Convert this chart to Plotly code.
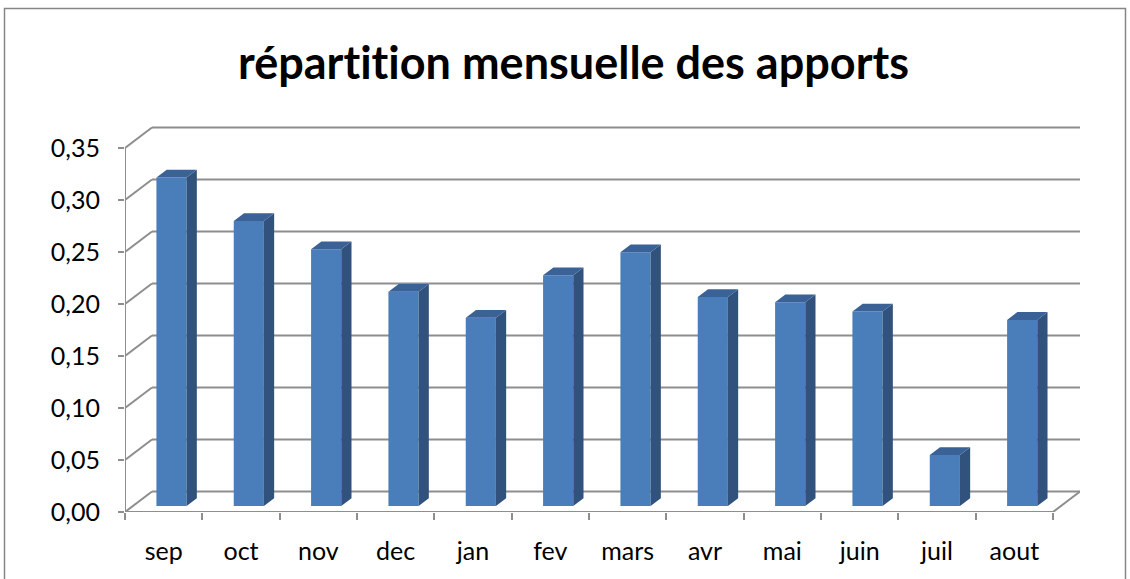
import plotly.graph_objects as go

# ---- data ----
months = ["sep", "oct", "nov", "dec", "jan", "fev", "mars", "avr", "mai", "juin", "juil", "aout"]
values = [0.316, 0.274, 0.247, 0.206, 0.181, 0.222, 0.244, 0.201, 0.196, 0.187, 0.049, 0.179]
y_ticks = [0.00, 0.05, 0.10, 0.15, 0.20, 0.25, 0.30, 0.35]
title_text = "répartition mensuelle des apports"

# ---- pseudo-3D geometry (data units) ----
n = len(months)
DX = 0.349        # depth offset along x (category units)
DY = 0.0197       # depth offset along y (value units)
D0 = 0.29         # depth of bar front face (fraction)
T = 0.38          # bar thickness in depth (fraction)
W = 0.39          # bar width (category units)

FRONT = "#4a7ebb"
SIDE = "#30527c"
TOP = "#3b6296"
GRID = "#8e8e8e"
FONT = "Lato"

fig = go.Figure()

xc = [i + 0.5 + D0 * DX for i in range(n)]
base = D0 * DY
fig.add_trace(go.Bar(x=xc, y=values, base=base, width=W,
                     marker=dict(color=FRONT, line=dict(width=0)),
                     hoverinfo="skip", showlegend=False))

sx, sy, tx, ty = [], [], [], []
for x, v in zip(xc, values):
    xl, xr = x - W / 2, x + W / 2
    top = base + v
    sx += [xr, xr, xr + T * DX, xr + T * DX, xr, None]
    sy += [base, top, top + T * DY, base + T * DY, base, None]
    tx += [xl, xr, xr + T * DX, xl + T * DX, xl, None]
    ty += [top, top, top + T * DY, top + T * DY, top, None]
fig.add_trace(go.Scatter(x=sx, y=sy, mode="lines", fill="toself", fillcolor=SIDE,
                         line=dict(width=0, color=SIDE), hoverinfo="skip", showlegend=False))
fig.add_trace(go.Scatter(x=tx, y=ty, mode="lines", fill="toself", fillcolor=TOP,
                         line=dict(width=0, color=TOP), hoverinfo="skip", showlegend=False))

# gridlines on back wall + slanted side wall
shapes = []
for v in y_ticks:
    shapes.append(dict(type="line", xref="x", yref="y", x0=0, y0=v, x1=DX, y1=v + DY,
                       line=dict(color=GRID, width=2), layer="below"))
    shapes.append(dict(type="line", xref="x", yref="y", x0=DX, y0=v + DY, x1=n + DX, y1=v + DY,
                       line=dict(color=GRID, width=2), layer="below"))
# floor front edge and right edge, front vertical axis
shapes.append(dict(type="line", xref="x", yref="y", x0=0, y0=0, x1=n, y1=0,
                   line=dict(color=GRID, width=2), layer="below"))
shapes.append(dict(type="line", xref="x", yref="y", x0=n, y0=0, x1=n + DX, y1=DY,
                   line=dict(color=GRID, width=2), layer="below"))
shapes.append(dict(type="line", xref="x", yref="y", x0=0, y0=0, x1=0, y1=y_ticks[-1],
                   line=dict(color=GRID, width=2), layer="below"))

# chart border
L, R, TOPM, B = 125, 50, 117, 67
PW, PH = 1130 - L - R, 579 - TOPM - B
def px(xp):
    return (xp - L) / PW
def py(yp):
    return (579 - B - yp) / PH
shapes.append(dict(type="rect", xref="paper", yref="paper",
                   x0=px(4.5), x1=px(1125.5), y0=py(590), y1=py(8.5),
                   line=dict(color="#868686", width=1.5), fillcolor="rgba(0,0,0,0)", layer="below"))

# zero-width non-joiner after "t" avoids the Lato "ti" ligature
title_display = title_text.replace("ti", "t\u200ci")

fig.update_layout(
    width=1130, height=579,
    margin=dict(l=L, r=R, t=TOPM, b=B, pad=0),
    paper_bgcolor="white", plot_bgcolor="white",
    separators=", ",
    shapes=shapes,
    showlegend=False,
    title=dict(text="<b>" + title_display + "</b>", x=573.5 / 1130, xanchor="center",
               y=1 - 63 / 579, yanchor="middle", yref="container",
               font=dict(family=FONT, size=45, color="black")),
    xaxis=dict(range=[0, n + DX], tickmode="array",
               tickvals=[i + 0.5 for i in range(n)], ticktext=months,
               ticks="outside", ticklen=17, tickcolor="rgba(0,0,0,0)",
               showline=False, showgrid=False, zeroline=False, fixedrange=True,
               tickfont=dict(family=FONT, size=25, color="black")),
    xaxis2=dict(range=[0, n + DX], overlaying="x", side="bottom", anchor="y",
                tickmode="array", tickvals=list(range(n + 1)),
                ticks="outside", ticklen=7, tickwidth=2, tickcolor=GRID,
                showticklabels=False, showline=False, showgrid=False, zeroline=False,
                fixedrange=True),
    yaxis=dict(range=[0, PH / 1040], tickmode="array", tickvals=y_ticks,
               tickformat=".2f", ticks="outside", ticklen=6, tickwidth=2, tickcolor=GRID,
               ticklabelstandoff=13,
               showline=False, showgrid=False, zeroline=False, fixedrange=True,
               tickfont=dict(family=FONT, size=25, color="black")),
)
# dummy trace to activate xaxis2
fig.add_trace(go.Scatter(x=[0], y=[0], xaxis="x2", mode="markers",
                         marker=dict(opacity=0), hoverinfo="skip", showlegend=False))

fig.write_html("out.html", config={"displayModeBar": False},
               post_script="document.body.style.margin='0';")
